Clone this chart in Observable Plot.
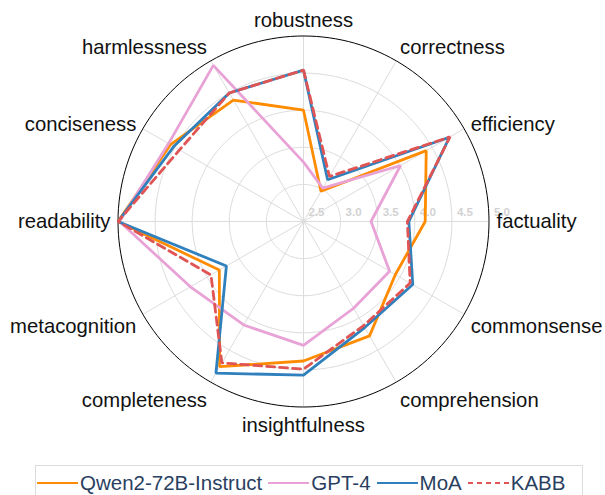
<!DOCTYPE html>
<html><head><meta charset="utf-8">
<script src="https://cdn.jsdelivr.net/npm/d3@7"></script>
<script src="https://cdn.jsdelivr.net/npm/@observablehq/plot@0.6"></script>
<style>
body{margin:0;background:#fff;font-family:"Liberation Sans",Arial,sans-serif;}
#wrap{position:relative;width:605px;height:495px;overflow:hidden;}
#chart{position:absolute;left:0;top:0;}
#legend{position:absolute;left:35px;top:465px;width:548px;height:40px;border:1px solid #dcdcdc;box-sizing:border-box;display:flex;align-items:flex-start;padding:5px 0 0 1px;color:#2a3f5f;font-size:20.5px;white-space:nowrap;}
#legend .item{display:flex;align-items:center;margin-right:6px;}
#legend svg{margin-right:2px;}
</style></head><body>
<div id="wrap"><div id="chart"></div><div id="legend"></div></div>
<script>
const axes = ["robustness","correctness","efficiency","factuality","commonsense","comprehension","insightfulness","completeness","metacognition","readability","conciseness","harmlessness"];
const qwen = [4.00, 2.97, 4.41, 4.14, 3.93, 4.28, 4.38, 4.76, 3.81, 5.00, 4.57, 4.39];
const gpt4 = [3.30, 3.02, 4.01, 3.41, 3.84, 3.85, 4.17, 4.11, 4.26, 4.98, 4.60, 4.93];
const moa  = [4.54, 3.15, 4.77, 3.92, 4.20, 4.15, 4.57, 4.86, 3.70, 5.00, 4.52, 4.50];
const kabb = [4.54, 3.20, 4.78, 3.90, 4.16, 4.12, 4.49, 4.70, 3.94, 5.00, 4.43, 4.50];
const seriesNames = ["Qwen2-72B-Instruct","GPT-4","MoA","KABB"];
const radialTicks = [2.5, 3.0, 3.5, 4.0, 4.5, 5.0];

const colors = ["#ff8c00","#e8a2d6","#2f80bd","#e05454"];
const dashes = [null, null, null, "8,5"];
const allValues = [qwen, gpt4, moa, kabb];

const rMin = 2.5, rMax = 5.0;
const W = 605, H = 440, cx = 303, cy = 221, Rpx = 185.5;
const k = Rpx / (rMax - rMin);
const ang = i => i * 2 * Math.PI / axes.length;
const X = (v, i) => (v - rMin) * Math.sin(ang(i));
const Y = (v, i) => (v - rMin) * Math.cos(ang(i));

const rows = [];
allValues.forEach((vals, s) => vals.forEach((v, i) => rows.push({s, name: seriesNames[s], axis: axes[i], i, value: v})));

// grid rings
const ringPts = [];
radialTicks.filter(t => t > rMin).forEach(t => {
  for (let a = 0; a < 360; a += 2) {
    const th = a * Math.PI / 180;
    ringPts.push({t, x: (t - rMin) * Math.sin(th), y: (t - rMin) * Math.cos(th)});
  }
});

const labelR = 193 / k;
const labelPos = axes.map((name, i) => {
  const th = ang(i), s = Math.sin(th), c = Math.cos(th);
  const off = c > 0.1 ? -8 * c + (Math.abs(s) > 0.8 ? 3 : 0) : (c < -0.1 ? -11 * c + 4 * Math.abs(s) : 0);
  return {name, i, x: labelR * s, y: labelR * c - off / k, anchor: s > 0.01 ? "start" : (s < -0.01 ? "end" : "middle")};
});

const marks = [
  Plot.line(ringPts.filter(d => d.t < rMax), {x: "x", y: "y", z: "t", curve: "linear-closed", stroke: "#dcdcdc", strokeWidth: 1}),
  Plot.link(axes, {x1: 0, y1: 0, x2: (d, i) => X(rMax, i), y2: (d, i) => Y(rMax, i), stroke: "#dcdcdc", strokeWidth: 1}),
  Plot.line(ringPts.filter(d => d.t === rMax), {x: "x", y: "y", curve: "linear-closed", stroke: "#000", strokeWidth: 1}),
  Plot.text(radialTicks, {x: t => t - rMin, y: 0, dx: 5, dy: -9, text: t => t.toFixed(1), textAnchor: "start", fill: "#d2d2d2", fontWeight: "bold", fontSize: 11.5})
];
for (const a of ["start","end","middle"]) {
  marks.push(Plot.text(labelPos.filter(d => d.anchor === a), {x: "x", y: "y", text: "name", textAnchor: a, fontSize: 20.3, fill: "#111"}));
}
allValues.forEach((vals, s) => {
  marks.push(Plot.line(rows.filter(d => d.s === s), {
    x: d => X(d.value, d.i), y: d => Y(d.value, d.i), curve: "linear-closed",
    stroke: colors[s], strokeWidth: 2.8, strokeDasharray: dashes[s] || undefined, strokeLinejoin: "miter"
  }));
});

const chart = Plot.plot({
  width: W, height: H, margin: 0,
  style: {fontFamily: '"Liberation Sans", Arial, sans-serif', background: "transparent", overflow: "visible"},
  x: {domain: [-cx / k, (W - cx) / k], range: [0, W], axis: null},
  y: {domain: [-(H - cy) / k, cy / k], range: [H, 0], axis: null},
  marks
});
document.getElementById("chart").appendChild(chart);

const leg = document.getElementById("legend");
seriesNames.forEach((n, s) => {
  const it = document.createElement("div");
  it.className = "item";
  it.innerHTML = `<svg width="41" height="10"><line x1="0" x2="41" y1="5" y2="5" stroke="${colors[s]}" stroke-width="2" ${dashes[s] ? 'stroke-dasharray="5,4"' : ''}/></svg><span>${n}</span>`;
  leg.appendChild(it);
});
</script>
</body></html>
